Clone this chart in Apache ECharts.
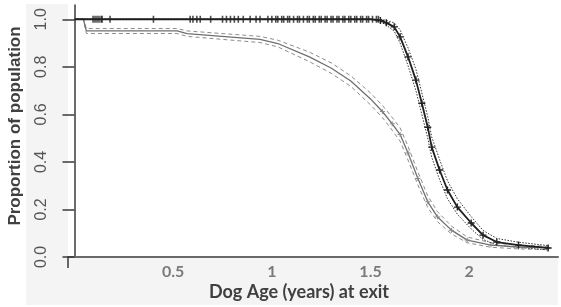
<!DOCTYPE html>
<html>
<head>
<meta charset="utf-8">
<script src="https://cdn.jsdelivr.net/npm/echarts@6/dist/echarts.min.js"></script>
<style>
	html, body { margin: 0; padding: 0; background: #fff; }
	#chart { width: 561px; height: 307px; }
</style>
</head>
<body>
<div id="chart"></div>
<script>
	// black curve (with censor marks) and its dotted confidence band
	const ageA = [0, 1.50, 1.55, 1.58, 1.62, 1.65, 1.69, 1.73, 1.76, 1.79, 1.81, 1.85, 1.89, 1.94, 2.01, 2.07, 2.14, 2.25, 2.40];
	const survA = [1, 1, 0.995, 0.985, 0.968, 0.926, 0.842, 0.744, 0.647, 0.546, 0.462, 0.366, 0.282, 0.21, 0.143, 0.092, 0.063, 0.05, 0.038];
	const upperA = [1, 1, 1, 0.995, 0.985, 0.955, 0.88, 0.79, 0.69, 0.59, 0.505, 0.41, 0.32, 0.245, 0.17, 0.112, 0.078, 0.062, 0.048];
	const lowerA = [1, 1, 0.99, 0.975, 0.95, 0.9, 0.805, 0.70, 0.60, 0.50, 0.42, 0.325, 0.245, 0.18, 0.118, 0.074, 0.05, 0.04, 0.03];

	// grey curve and its dashed confidence band
	const ageB = [0, 0.045, 0.06, 0.52, 0.57, 0.94, 1.03, 1.19, 1.30, 1.40, 1.50, 1.56, 1.61, 1.65, 1.69, 1.74, 1.79, 1.84, 1.91, 1.99, 2.11, 2.25, 2.40];
	const survB = [1, 1, 0.951, 0.951, 0.94, 0.915, 0.898, 0.842, 0.795, 0.74, 0.665, 0.612, 0.56, 0.515, 0.437, 0.33, 0.232, 0.168, 0.113, 0.071, 0.05, 0.042, 0.038];
	const upperB = [1, 1, 0.961, 0.961, 0.951, 0.928, 0.912, 0.862, 0.817, 0.762, 0.69, 0.638, 0.587, 0.543, 0.466, 0.358, 0.257, 0.19, 0.13, 0.084, 0.06, 0.05, 0.045];
	const lowerB = [1, 1, 0.94, 0.94, 0.928, 0.902, 0.884, 0.822, 0.773, 0.718, 0.64, 0.587, 0.533, 0.487, 0.408, 0.303, 0.208, 0.148, 0.097, 0.06, 0.041, 0.034, 0.031];

	// censored observations on the black curve while it is still at 1.0
	const censorA = [0.094, 0.104, 0.114, 0.124, 0.135, 0.14, 0.18, 0.40, 0.586, 0.60, 0.62, 0.637, 0.69, 0.75, 0.77, 0.79, 0.81, 0.83, 0.855, 0.89, 0.92, 0.94, 0.98,
		1.00, 1.02, 1.03, 1.05, 1.06, 1.08, 1.09, 1.11, 1.13, 1.14, 1.16, 1.18, 1.19, 1.21, 1.22, 1.24, 1.25, 1.27, 1.28, 1.30, 1.31, 1.33, 1.34,
		1.36, 1.37, 1.39, 1.40, 1.42, 1.43, 1.45, 1.46, 1.48, 1.49, 1.51, 1.53, 1.54];

	const xTicks = [0.5, 1, 1.5, 2];
	const yTicks = [0, 0.2, 0.4, 0.6, 0.8, 1.0];

	const plus = "path://M4,0H6V4H10V6H6V10H4V6H0V4H4Z";
	const zip = (xs, ys) => xs.map((x, i) => [x, ys[i]]);

	const band = (name, xs, ys, color, type) => ({
		name,
		type: "line",
		data: zip(xs, ys),
		symbol: "none",
		lineStyle: { color, width: 1, type },
		z: 3
	});

	const chart = echarts.init(document.getElementById("chart"));

	chart.setOption({
		animation: false,
		backgroundColor: "#ffffff",
		grid: { left: 68, right: 3, top: 5, bottom: 50 },
		xAxis: {
			type: "value",
			min: -0.033,
			max: 2.45,
			axisLine: { show: true, onZero: false, lineStyle: { color: "#6a6a6a", width: 2 } },
			axisTick: { show: false },
			splitLine: { show: false },
			axisLabel: {
				customValues: xTicks,
				formatter: v => String(v),
				fontFamily: "Lato",
				fontWeight: "bold",
				fontSize: 16,
				color: "#7a7a7a",
				margin: 7
			}
		},
		yAxis: {
			type: "value",
			min: 0,
			max: 1.06,
			axisLine: { show: true, lineStyle: { color: "#3a3a3a", width: 1.5 } },
			axisTick: { show: true, customValues: yTicks, length: 12, lineStyle: { color: "#3a3a3a", width: 1.5 } },
			splitLine: { show: false },
			axisLabel: {
				customValues: yTicks,
				formatter: v => v.toFixed(1),
				rotate: 90,
				fontFamily: "Liberation Sans",
				fontSize: 16,
				color: "#555",
				margin: 18
			}
		},
		graphic: [
			{ type: "rect", z: -10, shape: { x: 26, y: 4, width: 42, height: 301 }, style: { fill: "#f4f4f4" } },
			{ type: "rect", z: -10, shape: { x: 26, y: 258, width: 532, height: 47 }, style: { fill: "#f4f4f4" } },
			{ type: "line", z: 5, shape: { x1: 68, y1: 257, x2: 68, y2: 268 }, style: { stroke: "#3a3a3a", lineWidth: 1.5 } },
			{
				type: "text",
				x: 15,
				y: 126,
				rotation: Math.PI / 2,
				style: {
					text: "Proportion of population",
					fontFamily: "Liberation Sans",
					fontWeight: "bold",
					fontSize: 17,
					fill: "#404040",
					align: "center",
					verticalAlign: "middle"
				}
			},
			{
				type: "text",
				x: 299,
				y: 292,
				style: {
					text: "Dog Age (years) at exit",
					fontFamily: "Lato",
					fontWeight: "bold",
					fontSize: 18,
					fill: "#404040",
					align: "center",
					verticalAlign: "middle"
				}
			}
		],
		series: [
			band("B lower", ageB, lowerB, "#8c8c8c", [4, 3]),
			band("B upper", ageB, upperB, "#8c8c8c", [4, 3]),
			{
				name: "B",
				type: "line",
				data: zip(ageB, survB),
				symbol: (v, p) => (p.dataIndex > 10 ? plus : "none"),
				symbolSize: 5,
				itemStyle: { color: "#8a8a8a" },
				lineStyle: { color: "#707070", width: 1.3 },
				z: 4
			},
			band("A lower", ageA, lowerA, "#333", [1.5, 1.5]),
			band("A upper", ageA, upperA, "#333", [1.5, 1.5]),
			{
				name: "A",
				type: "line",
				data: zip(ageA, survA),
				symbol: (v, p) => (p.dataIndex > 1 ? plus : "none"),
				symbolSize: 7,
				itemStyle: { color: "#222" },
				lineStyle: { color: "#1e1e1e", width: 1.8 },
				z: 6
			},
			{
				name: "censored",
				type: "scatter",
				data: censorA.map(x => [x, 1]),
				symbol: "rect",
				symbolSize: [1.6, 7],
				itemStyle: { color: "#222" },
				z: 7
			}
		]
	});
</script>
</body>
</html>
